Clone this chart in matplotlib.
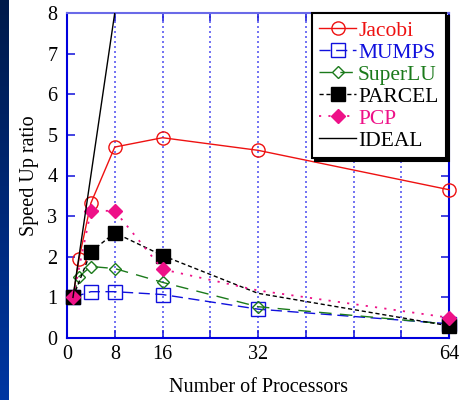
import numpy as np
import matplotlib
matplotlib.use("Agg")
import matplotlib.pyplot as plt
from matplotlib.colors import LinearSegmentedColormap

# ---- data ----
jacobi_x = [1, 2, 4, 8, 16, 32, 64]
jacobi_y = [1.0, 1.94, 3.32, 4.70, 4.93, 4.62, 3.65]
mumps_x = [1, 4, 8, 16, 32, 64]
mumps_y = [1.0, 1.14, 1.14, 1.07, 0.71, 0.35]
superlu_x = [1, 2, 4, 8, 16, 32, 64]
superlu_y = [1.0, 1.51, 1.76, 1.71, 1.37, 0.77, 0.34]
parcel_x = [1, 4, 8, 16, 32, 64]
parcel_y = [1.0, 2.12, 2.59, 2.03, 1.10, 0.30]
pcp_x = [1, 4, 8, 16, 32, 64]
pcp_y = [1.0, 3.13, 3.13, 1.69, 1.17, 0.50]
ideal_x = [1, 8]
ideal_y = [1, 8]
xticks = [0, 8, 16, 24, 32, 40, 48, 56, 64]
xticklabels = ["0", "8", "16", "", "32", "", "", "", "64"]
yticks = [0, 1, 2, 3, 4, 5, 6, 7, 8]

plt.rcParams['font.family'] = ['Liberation Serif', 'DejaVu Serif']

fig = plt.figure(figsize=(4.61, 4.0), dpi=100)

# left gradient strip
sax = fig.add_axes([0, 0, 8 / 461, 1])
grad = np.linspace(0, 1, 256).reshape(-1, 1)
cm = LinearSegmentedColormap.from_list("strip", ["#001a4a", "#0036a2"])
sax.imshow(grad, aspect='auto', cmap=cm, origin='upper')
sax.axis('off')

ax = fig.add_axes([67 / 461, 62 / 400, 382 / 461, 325 / 400])
ax.set_xlim(0, 64)
ax.set_ylim(0, 8)

for xv in xticks[1:-1]:
    ax.axvline(xv, color='#3030ee', lw=1.2, ls=(0, (1.2, 1.8)), alpha=0.8, zorder=1)

ms = 9.5
no32 = [i for i in range(len(parcel_x)) if parcel_x[i] != 32]
ax.plot(jacobi_x, jacobi_y, color='#ee1111', lw=1.0, marker='o', ms=ms, mfc='none',
        mec='#ee1111', mew=1.0, label='Jacobi', clip_on=False, zorder=3)
ax.plot(mumps_x, mumps_y, color='#1010dd', lw=1.0, ls=(0, (8, 4)), marker='s', ms=ms,
        mfc='none', mec='#1010dd', mew=1.0, label='MUMPS', clip_on=False, zorder=3)
ax.plot(superlu_x, superlu_y, color='#1b7a1b', lw=1.0, ls=(0, (9, 6)), marker='D', ms=6.2,
        mfc='none', mec='#1b7a1b', mew=1.0, label='SuperLU', clip_on=False, zorder=3)
ax.plot(parcel_x, parcel_y, color='black', lw=1.0, ls=(0, (3, 2)), marker='s', ms=ms,
        mfc='black', mec='black', label='PARCEL', clip_on=False, zorder=4, markevery=no32)
ax.plot(pcp_x, pcp_y, color='#ee1188', lw=1.3, ls=(0, (1.2, 4)), marker='D', ms=7.2,
        mfc='#ee1188', mec='#ee1188', label='PCP', clip_on=False, zorder=5, markevery=no32)
ax.plot(ideal_x, ideal_y, color='black', lw=1.0, label='IDEAL', zorder=6)

for s in ['left', 'bottom', 'right']:
    ax.spines[s].set_color('#0000dd')
    ax.spines[s].set_linewidth(1.5)
ax.spines['top'].set_color('#6a6ae8')
ax.spines['top'].set_linewidth(1.5)

ax.set_xticks(xticks)
ax.set_xticklabels(xticklabels)
ax.set_yticks(yticks)
ax.tick_params(direction='in', length=5.5, width=1.2, color='#2222dd', top=True, right=True,
               labelsize=14.5, labelcolor='black')
ax.tick_params(axis='y', pad=7)
ax.tick_params(axis='x', pad=5)

ax.set_xlabel('Number of Processors', fontsize=14.5, labelpad=10)
ax.set_ylabel('Speed Up ratio', fontsize=14.5, labelpad=6)

leg = ax.legend(loc='upper right', bbox_to_anchor=(0.992, 1.0), borderaxespad=0,
                fontsize=15.5, labelspacing=0.09, handlelength=1.7, handletextpad=0.1,
                borderpad=0.35, fancybox=False, framealpha=1,
                shadow={'facecolor': 'black', 'edgecolor': 'black', 'alpha': 1})
leg.get_frame().set_edgecolor('black')
leg.get_frame().set_linewidth(1.5)
leg.set_zorder(10)
for txt, col in zip(leg.get_texts(), ['#ee1111', '#1010dd', '#1b7a1b', 'black', '#ee1188', 'black']):
    txt.set_color(col)

fig.savefig('out.png', dpi=100)
